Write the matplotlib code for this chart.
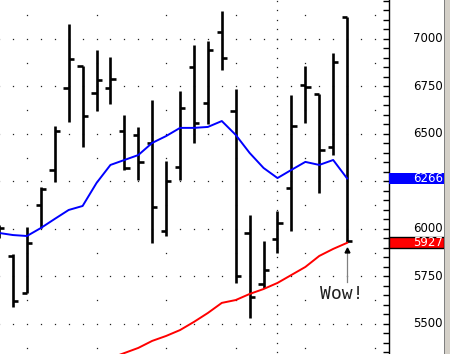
import matplotlib
matplotlib.use('Agg')
import matplotlib.pyplot as plt
import numpy as np
from matplotlib.patches import Rectangle
from matplotlib.ticker import MultipleLocator

# weekly bars, index -1 is the one cut off at the left edge
week = np.arange(-1, 25)
opens = [5990, 5860, 5663, 6126, 6311, 6742, 6858, 6716, 6742, 6516,
         6495, 6453, 5989, 6326, 6853, 6663, 7037, 6621, 5979, 5711,
         5947, 6216, 6758, 6711, 6432, 7116]
highs = [6020, 5868, 6011, 6221, 6542, 7079, 6858, 6942, 6905, 6600,
         6537, 6679, 6358, 6726, 6968, 6989, 7147, 6737, 6074, 5937,
         6095, 6705, 6858, 6711, 6926, 7116]
lows = [5950, 5589, 5663, 6005, 6247, 6563, 6432, 6621, 6658, 6311,
        6258, 5926, 5963, 6258, 6453, 6553, 6837, 5716, 5532, 5689,
        5874, 5989, 6558, 6189, 6389, 5932]
closes = [6005, 5621, 5926, 6210, 6516, 6895, 6595, 6784, 6789, 6321,
          6353, 6116, 6253, 6637, 6558, 6942, 6900, 5753, 5642, 5784,
          6032, 6542, 6747, 6416, 6879, 5937]

# moving averages
ma_short = [5979, 5968, 5963, 6005, 6053, 6100, 6121, 6242, 6337, 6363,
            6389, 6453, 6489, 6532, 6532, 6537, 6568, 6495, 6400, 6321,
            6268, 6311, 6353, 6337, 6363, 6266]
ma_long_week = np.arange(7, 25)
ma_long = [5320, 5347, 5374, 5411, 5437, 5468, 5511, 5558, 5611, 5626,
           5658, 5684, 5716, 5758, 5800, 5858, 5895, 5927]

price_ticks = [5500, 5750, 6000, 6250, 6500, 6750, 7000]

W, H = 450, 354
fig = plt.figure(figsize=(W / 100, H / 100), dpi=100)
ax = fig.add_axes([0, 0, 389 / W, 1])
ax.set_xlim(-0.934, 27.01)
ax.set_ylim(5342, 7205)

# dotted grid
gx = np.arange(-1, 28)
for p in price_ticks:
    ax.plot(gx, [p] * len(gx), ls='none', marker='s', ms=0.9, mew=0,
            color='#202020', zorder=1)
for p in np.arange(5375, 7200, 250):
    xs = np.arange(1, 28, 5)
    ax.plot(xs, [p] * len(xs), ls='none', marker='s', ms=0.9, mew=0,
            color='#202020', zorder=1)
vy = np.arange(5350, 7250, 50)
ax.plot([19] * len(vy), vy, ls='none', marker='s', ms=0.9, mew=0,
        color='#202020', zorder=1)

# OHLC bars
ax.vlines(week, lows, highs, color='black', lw=1.9, zorder=3)
ax.hlines(opens, week - 0.38, week, color='black', lw=1.9, zorder=3)
ax.hlines(closes, week, week + 0.38, color='black', lw=1.9, zorder=3)

ax.plot(week, ma_short, color='#0000ff', lw=1.4, zorder=4)
ax.plot(ma_long_week, ma_long, color='#ff0000', lw=1.4, zorder=4)

# annotation
tip = lows[-1] - 50
ax.plot([week[-1], week[-1]], [lows[-1] - 210, tip], color='#808080',
        lw=0.9, zorder=4)
ax.plot(week[-1], tip + 8, marker='^', ms=3.5, color='black', zorder=5)
ax.text(week[-1] - 0.35, lows[-1] - 275, 'Wow!', ha='center', va='center',
        fontsize=13, family='DejaVu Sans Mono', color='#202020')

# axes, right side scale
for s in ['left', 'top', 'bottom']:
    ax.spines[s].set_visible(False)
ax.spines['right'].set_linewidth(1)
ax.set_xticks([])
ax.yaxis.tick_right()
ax.yaxis.set_major_locator(MultipleLocator(250))
ax.yaxis.set_minor_locator(MultipleLocator(50))
ax.tick_params(axis='y', which='both', direction='in', length=4,
               width=1, labelright=False)

tr = ax.get_yaxis_transform()
xr = 443 / 389
for p in price_ticks:
    # labels under the value boxes are hidden
    if min(abs(p - ma_short[-1]), abs(p - ma_long[-1])) < 40:
        continue
    ax.text(xr, p, str(p), transform=tr, ha='right', va='center',
            fontsize=8.5, clip_on=False, zorder=3)

# last value boxes
bw = 444 / 389 - 1
ax.add_patch(Rectangle((1.0, ma_short[-1] - 29), bw, 58, transform=tr,
                       facecolor='#0000ff', edgecolor='none',
                       clip_on=False, zorder=6))
ax.text(xr, ma_short[-1], str(ma_short[-1]), transform=tr, ha='right',
        va='center', fontsize=8.5, color='white', clip_on=False, zorder=7)
ax.add_patch(Rectangle((1.0, ma_long[-1] - 29), bw, 58, transform=tr,
                       facecolor='#ff0000', edgecolor='black', lw=1,
                       clip_on=False, zorder=6))
ax.text(xr, ma_long[-1], str(ma_long[-1]), transform=tr, ha='right',
        va='center', fontsize=8.5, color='white', clip_on=False, zorder=7)

# scroll bar edge
fig.add_artist(Rectangle((444 / W, 0), 6 / W, 1, transform=fig.transFigure,
                         facecolor='#d4d0c8', edgecolor='none'))
fig.add_artist(Rectangle((444 / W, 0), 1 / W, 1, transform=fig.transFigure,
                         facecolor='#808080', edgecolor='none'))

fig.savefig('out.png', dpi=100)
